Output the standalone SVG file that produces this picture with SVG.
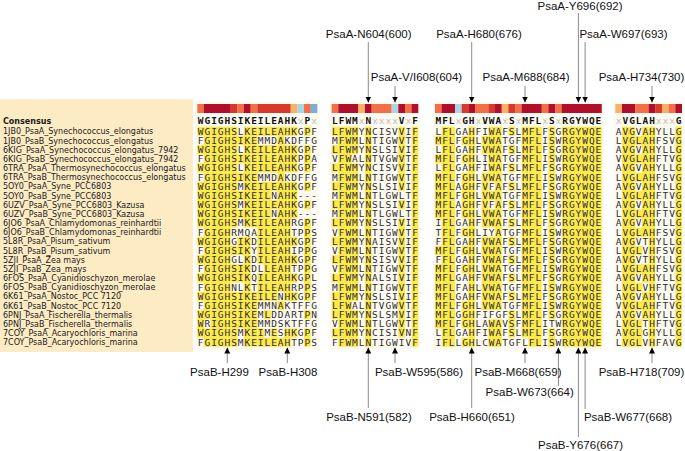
<svg xmlns="http://www.w3.org/2000/svg" width="685" height="451" viewBox="0 0 685 451">
<style>
.lbl{font-family:"DejaVu Sans",Verdana,sans-serif;font-size:8px;fill:#1a1a1a}
.cons{font-family:"DejaVu Sans Mono",monospace;font-size:9.5px;font-weight:bold;fill:#111;letter-spacing:0.95px}
.seq{font-family:"DejaVu Sans Mono",monospace;font-size:9.5px;fill:#2e2e2e;letter-spacing:0.95px}
.gx{fill:#c0c0c0;font-weight:normal}
.ann{font-family:"Liberation Sans",Arial,sans-serif;font-size:11.5px;fill:#111;text-anchor:middle}
.hl rect{fill:#fde94c}
.c5{fill:#b10e2b}.c4{fill:#d9392b}.c3{fill:#f36f47}.c2{fill:#fbb067}.c1{fill:#a9d5e8}.c0{fill:#7aaed6}
.blk{fill:#fdfaf1}
.ar{stroke:#8a8a8a;stroke-width:1;fill:none;marker-end:url(#ah)}
</style>
<defs>
<marker id="ah" viewBox="0 0 6 6" refX="6" refY="3" markerWidth="6" markerHeight="6" markerUnits="userSpaceOnUse" orient="auto"><path d="M0,0 L6,3 L0,6 z" fill="#000"/></marker>
</defs>
<rect width="685" height="451" fill="#fff"/>
<g id="label-panel">
<rect x="0" y="99" width="193" height="253" fill="#fdebc4"/>
<text class="lbl" x="3" y="123.5" font-weight="bold">Consensus</text>
<text class="lbl" x="3" y="134.4"><tspan x="3">1JB0_PsaA_Synechococcus_elongatus</tspan><tspan x="3" dy="9.17">1JB0_PsaB_Synechococcus_elongatus</tspan><tspan x="3" dy="9.17">6KIG_PsaA_Synechococcus_elongatus_7942</tspan><tspan x="3" dy="9.17">6KIG_PsaB_Synechococcus_elongatus_7942</tspan><tspan x="3" dy="9.17">6TRA_PsaA_Thermosynechococcus_elongatus</tspan><tspan x="3" dy="9.17">6TRA_PsaB_Thermosynechococcus_elongatus</tspan><tspan x="3" dy="9.17">5OY0_PsaA_Syne_PCC6803</tspan><tspan x="3" dy="9.17">5OY0_PsaB_Syne_PCC6803</tspan><tspan x="3" dy="9.17">6UZV_PsaA_Syne_PCC6803_Kazusa</tspan><tspan x="3" dy="9.17">6UZV_PsaB_Syne_PCC6803_Kazusa</tspan><tspan x="3" dy="9.17">6JO6_PsaA_Chlamydomonas_reinhardtii</tspan><tspan x="3" dy="9.17">6JO6_PsaB_Chlamydomonas_reinhardtii</tspan><tspan x="3" dy="9.17">5L8R_PsaA_Pisum_sativum</tspan><tspan x="3" dy="9.17">5L8R_PsaB_Pisum_sativum</tspan><tspan x="3" dy="9.17">5ZJI_PsaA_Zea mays</tspan><tspan x="3" dy="9.17">5ZJI_PsaB_Zea_mays</tspan><tspan x="3" dy="9.17">6FOS_PsaA_Cyanidioschyzon_merolae</tspan><tspan x="3" dy="9.17">6FOS_PsaB_Cyanidioschyzon_merolae</tspan><tspan x="3" dy="9.17">6K61_PsaA_Nostoc_PCC 7120</tspan><tspan x="3" dy="9.17">6K61_PsaB_Nostoc_PCC 7120</tspan><tspan x="3" dy="9.17">6PNJ_PsaA_Fischerella_thermalis</tspan><tspan x="3" dy="9.17">6PNJ_PsaB_Fischerella_thermalis</tspan><tspan x="3" dy="9.17">7COY_PsaA_Acaryochloris_marina</tspan><tspan x="3" dy="9.17">7COY_PsaB_Acaryochloris_marina</tspan></text>
</g>

<g id="block1">
<rect class="blk" x="195.3" y="101" width="124" height="248"/>
<g transform="translate(197.3,104) scale(6.67,9)">
<rect class="c3" x="0" y="0" width="1.02" height="1"/><rect class="c5" x="1" y="0" width="4.02" height="1"/><rect class="c4" x="5" y="0" width="1.02" height="1"/><rect class="c3" x="6" y="0" width="1.02" height="1"/><rect class="c5" x="7" y="0" width="1.02" height="1"/><rect class="c3" x="8" y="0" width="1.02" height="1"/><rect class="c4" x="9" y="0" width="5.02" height="1"/><rect class="c2" x="14" y="0" width="1.02" height="1"/><rect class="c1" x="15" y="0" width="1.02" height="1"/><rect class="c3" x="16" y="0" width="1.02" height="1"/><rect class="c0" x="17" y="0" width="1" height="1"/>
</g>
<text class="cons" x="197.8" y="123.8">WGIGHSIKEILEAHK<tspan class="gx">x</tspan>P<tspan class="gx">x</tspan></text>
<g class="hl" transform="translate(197.3,126.7) scale(6.67,9.17)">
<rect x="0" y="0" width="1.02" height="1"/><rect x="0" y="2" width="1.02" height="1"/><rect x="0" y="4" width="1.02" height="1"/><rect x="0" y="6" width="1.02" height="5"/><rect x="0" y="12" width="1.02" height="1"/><rect x="0" y="14" width="1.02" height="1"/><rect x="0" y="16" width="1.02" height="1"/><rect x="0" y="18" width="1.02" height="1"/><rect x="0" y="20" width="1.02" height="3"/>
<rect x="1" y="0" width="1.02" height="21"/><rect x="1" y="22" width="1.02" height="2"/>
<rect x="2" y="0" width="3.02" height="24"/>
<rect x="5" y="0" width="1.02" height="11"/><rect x="5" y="13" width="1.02" height="1"/><rect x="5" y="15" width="1.02" height="2"/><rect x="5" y="18" width="1.02" height="6"/>
<rect x="6" y="1" width="1.02" height="1"/><rect x="6" y="3" width="1.02" height="1"/><rect x="6" y="5" width="1.02" height="1"/><rect x="6" y="7" width="1.02" height="1"/><rect x="6" y="9" width="1.02" height="1"/><rect x="6" y="12" width="1.02" height="2"/><rect x="6" y="15" width="1.02" height="2"/><rect x="6" y="18" width="1.02" height="4"/>
<rect x="7" y="0" width="1.02" height="11"/><rect x="7" y="12" width="1.02" height="12"/>
<rect x="8" y="0" width="1.02" height="11"/><rect x="8" y="18" width="1.02" height="6"/>
<rect x="9" y="0" width="1.02" height="1"/><rect x="9" y="2" width="1.02" height="3"/><rect x="9" y="6" width="1.02" height="9"/><rect x="9" y="16" width="1.02" height="3"/><rect x="9" y="22" width="1.02" height="2"/>
<rect x="10" y="0" width="1.02" height="1"/><rect x="10" y="2" width="1.02" height="3"/><rect x="10" y="6" width="1.02" height="13"/><rect x="10" y="20" width="1.02" height="1"/><rect x="10" y="23" width="1.02" height="1"/>
<rect x="11" y="0" width="1.02" height="1"/><rect x="11" y="2" width="1.02" height="3"/><rect x="11" y="6" width="1.02" height="1"/><rect x="11" y="8" width="1.02" height="1"/><rect x="11" y="10" width="1.02" height="9"/><rect x="11" y="22" width="1.02" height="2"/>
<rect x="12" y="0" width="1.02" height="18"/><rect x="12" y="19" width="1.02" height="1"/><rect x="12" y="23" width="1.02" height="1"/>
<rect x="13" y="0" width="1.02" height="1"/><rect x="13" y="2" width="1.02" height="3"/><rect x="13" y="6" width="1.02" height="13"/><rect x="13" y="22" width="1.02" height="2"/>
<rect x="14" y="0" width="1.02" height="1"/><rect x="14" y="2" width="1.02" height="3"/><rect x="14" y="6" width="1.02" height="4"/><rect x="14" y="12" width="1.02" height="1"/><rect x="14" y="14" width="1.02" height="1"/><rect x="14" y="16" width="1.02" height="1"/><rect x="14" y="18" width="1.02" height="1"/><rect x="14" y="22" width="1.02" height="1"/>
<rect x="16" y="0" width="1" height="1"/><rect x="16" y="2" width="1" height="3"/><rect x="16" y="6" width="1" height="1"/><rect x="16" y="8" width="1" height="1"/><rect x="16" y="10" width="1" height="9"/><rect x="16" y="20" width="1" height="1"/><rect x="16" y="22" width="1" height="2"/>
</g>
<text class="seq" x="197.8" y="134.7"><tspan x="197.8">WGIGHSLKEILEAHKGPF</tspan><tspan x="197.8" dy="9.17">FGIGHSIKEMMDAKDFFG</tspan><tspan x="197.8" dy="9.17">WGIGHSLKEILEAHKGPF</tspan><tspan x="197.8" dy="9.17">FGIGHSIKEILEAHKPPA</tspan><tspan x="197.8" dy="9.17">WGIGHSLKEILEAHKGPF</tspan><tspan x="197.8" dy="9.17">FGIGHSIKEMMDAKDFFG</tspan><tspan x="197.8" dy="9.17">WGIGHSMKEILEAHKGPF</tspan><tspan x="197.8" dy="9.17">WGIGHSIKEILNAHK---</tspan><tspan x="197.8" dy="9.17">WGIGHSMKEILEAHKGPF</tspan><tspan x="197.8" dy="9.17">WGIGHSIKEILNAHK---</tspan><tspan x="197.8" dy="9.17">WGIGHSMKEILEAHRGPF</tspan><tspan x="197.8" dy="9.17">FGIGHRMQAILEAHTPPS</tspan><tspan x="197.8" dy="9.17">WGIGHGIKDILEAHKGPF</tspan><tspan x="197.8" dy="9.17">FGIGHSIKYILEAHIPPG</tspan><tspan x="197.8" dy="9.17">WGIGHGLKDILEAHKGPF</tspan><tspan x="197.8" dy="9.17">FGIGHSIKDLLEAHTPPG</tspan><tspan x="197.8" dy="9.17">WGIGHSIKQILEAHKGPL</tspan><tspan x="197.8" dy="9.17">FGIGHNLKTILEAHRPPS</tspan><tspan x="197.8" dy="9.17">WGIGHSIKEILENHKGPF</tspan><tspan x="197.8" dy="9.17">FGIGHSIKEMMNAKTFFG</tspan><tspan x="197.8" dy="9.17">WGIGHSIKEMLDDARTPN</tspan><tspan x="197.8" dy="9.17">WRIGHSIKEMMDSKTFFG</tspan><tspan x="197.8" dy="9.17">WGIGHSMKEIMESHKGPF</tspan><tspan x="197.8" dy="9.17">FGIGHSMKEILEAHTPPS</tspan></text>
</g>

<g id="block2">
<rect class="blk" x="329.6" y="101" width="91" height="248"/>
<g transform="translate(331.6,104) scale(6.67,9)">
<rect class="c3" x="0" y="0" width="1.02" height="1"/><rect class="c5" x="1" y="0" width="3.02" height="1"/><rect class="c2" x="4" y="0" width="1.02" height="1"/><rect class="c5" x="5" y="0" width="1.02" height="1"/><rect class="c3" x="6" y="0" width="3.02" height="1"/><rect class="c1" x="9" y="0" width="1.02" height="1"/><rect class="c5" x="10" y="0" width="1.02" height="1"/><rect class="c3" x="11" y="0" width="1.02" height="1"/><rect class="c5" x="12" y="0" width="1" height="1"/>
</g>
<text class="cons" x="332.1" y="123.8">LFWM<tspan class="gx">x</tspan>N<tspan class="gx">xxxx</tspan>V<tspan class="gx">x</tspan>F</text>
<g class="hl" transform="translate(331.6,126.7) scale(6.67,9.17)">
<rect x="0" y="0" width="1.02" height="1"/><rect x="0" y="2" width="1.02" height="1"/><rect x="0" y="4" width="1.02" height="1"/><rect x="0" y="6" width="1.02" height="1"/><rect x="0" y="8" width="1.02" height="1"/><rect x="0" y="10" width="1.02" height="1"/><rect x="0" y="12" width="1.02" height="1"/><rect x="0" y="14" width="1.02" height="1"/><rect x="0" y="16" width="1.02" height="1"/><rect x="0" y="18" width="1.02" height="3"/><rect x="0" y="22" width="1.02" height="1"/>
<rect x="1" y="0" width="2.02" height="24"/>
<rect x="3" y="0" width="1" height="3"/><rect x="3" y="4" width="1" height="15"/><rect x="3" y="20" width="1" height="4"/>
<rect x="5" y="0" width="1" height="24"/>
<rect x="10" y="0" width="1" height="7"/><rect x="10" y="8" width="1" height="1"/><rect x="10" y="10" width="1" height="13"/>
<rect x="12" y="0" width="1" height="24"/>
</g>
<text class="seq" x="332.1" y="134.7"><tspan x="332.1">LFWMYNCISVVIF</tspan><tspan x="332.1" dy="9.17">MFWMLNTIGWVTF</tspan><tspan x="332.1" dy="9.17">LFWMYNSLSIVIF</tspan><tspan x="332.1" dy="9.17">VFWALNTVGWVTF</tspan><tspan x="332.1" dy="9.17">LFWMYNCISVVIF</tspan><tspan x="332.1" dy="9.17">MFWMLNTIGWVTF</tspan><tspan x="332.1" dy="9.17">LFWMYNSLSIVIF</tspan><tspan x="332.1" dy="9.17">MFWMLNTLGWLTF</tspan><tspan x="332.1" dy="9.17">LFWMYNSLSIVIF</tspan><tspan x="332.1" dy="9.17">MFWMLNTLGWLTF</tspan><tspan x="332.1" dy="9.17">LFWMYNSLSIVIF</tspan><tspan x="332.1" dy="9.17">VFWMLNTIGWVTF</tspan><tspan x="332.1" dy="9.17">LFWMYNAISVVIF</tspan><tspan x="332.1" dy="9.17">VFWMLNTIGWVTF</tspan><tspan x="332.1" dy="9.17">LFWMYNSISVVIF</tspan><tspan x="332.1" dy="9.17">VFWMLNTIGWVTF</tspan><tspan x="332.1" dy="9.17">LFWMYNALSIVIF</tspan><tspan x="332.1" dy="9.17">MFWMLNTIGWVTF</tspan><tspan x="332.1" dy="9.17">LFWMYNSLSIVIF</tspan><tspan x="332.1" dy="9.17">LFWALNTVGWVTF</tspan><tspan x="332.1" dy="9.17">LFWMYNSLSMVIF</tspan><tspan x="332.1" dy="9.17">VFWMLNTLGWVTF</tspan><tspan x="332.1" dy="9.17">LFWMYNCISIVNF</tspan><tspan x="332.1" dy="9.17">FFWMLNTIGWIVF</tspan></text>
</g>

<g id="block3">
<rect class="blk" x="433" y="101" width="171" height="248"/>
<g transform="translate(435,104) scale(6.67,9)">
<rect class="c3" x="0" y="0" width="1.02" height="1"/><rect class="c5" x="1" y="0" width="2.02" height="1"/><rect class="c1" x="3" y="0" width="1.02" height="1"/><rect class="c4" x="4" y="0" width="1.02" height="1"/><rect class="c5" x="5" y="0" width="1.02" height="1"/><rect class="c3" x="6" y="0" width="2.02" height="1"/><rect class="c4" x="8" y="0" width="1.02" height="1"/><rect class="c5" x="9" y="0" width="1.02" height="1"/><rect class="c2" x="10" y="0" width="1.02" height="1"/><rect class="c4" x="11" y="0" width="1.02" height="1"/><rect class="c3" x="12" y="0" width="1.02" height="1"/><rect class="c5" x="13" y="0" width="3.02" height="1"/><rect class="c3" x="16" y="0" width="1.02" height="1"/><rect class="c5" x="17" y="0" width="1.02" height="1"/><rect class="c3" x="18" y="0" width="1.02" height="1"/><rect class="c5" x="19" y="0" width="6" height="1"/>
</g>
<text class="cons" x="435.5" y="123.8">MFL<tspan class="gx">x</tspan>GH<tspan class="gx">x</tspan>VWA<tspan class="gx">x</tspan>S<tspan class="gx">x</tspan>MFL<tspan class="gx">x</tspan>S<tspan class="gx">x</tspan>RGYWQE</text>
<g class="hl" transform="translate(435,126.7) scale(6.67,9.17)">
<rect x="0" y="1" width="1.02" height="1"/><rect x="0" y="3" width="1.02" height="1"/><rect x="0" y="5" width="1.02" height="5"/><rect x="0" y="13" width="1.02" height="1"/><rect x="0" y="15" width="1.02" height="7"/>
<rect x="1" y="0" width="2" height="24"/>
<rect x="4" y="1" width="1.02" height="1"/><rect x="4" y="3" width="1.02" height="1"/><rect x="4" y="5" width="1.02" height="5"/><rect x="4" y="11" width="1.02" height="1"/><rect x="4" y="13" width="1.02" height="1"/><rect x="4" y="15" width="1.02" height="1"/><rect x="4" y="19" width="1.02" height="3"/><rect x="4" y="23" width="1.02" height="1"/>
<rect x="5" y="0" width="1" height="24"/>
<rect x="7" y="1" width="1.02" height="2"/><rect x="7" y="5" width="1.02" height="6"/><rect x="7" y="12" width="1.02" height="8"/>
<rect x="8" y="0" width="1.02" height="6"/><rect x="8" y="7" width="1.02" height="1"/><rect x="8" y="9" width="1.02" height="2"/><rect x="8" y="12" width="1.02" height="8"/><rect x="8" y="21" width="1.02" height="3"/>
<rect x="9" y="0" width="1" height="20"/><rect x="9" y="21" width="1" height="3"/>
<rect x="11" y="0" width="1" height="1"/><rect x="11" y="2" width="1" height="1"/><rect x="11" y="4" width="1" height="1"/><rect x="11" y="6" width="1" height="1"/><rect x="11" y="8" width="1" height="1"/><rect x="11" y="10" width="1" height="1"/><rect x="11" y="12" width="1" height="1"/><rect x="11" y="14" width="1" height="1"/><rect x="11" y="16" width="1" height="1"/><rect x="11" y="18" width="1" height="1"/><rect x="11" y="20" width="1" height="3"/>
<rect x="13" y="0" width="1.02" height="23"/>
<rect x="14" y="0" width="2" height="24"/>
<rect x="17" y="0" width="1" height="21"/><rect x="17" y="22" width="1" height="2"/>
<rect x="19" y="0" width="6" height="24"/>
</g>
<text class="seq" x="435.5" y="134.7"><tspan x="435.5">LFLGAHFIWAFSLMFLFSGRGYWQE</tspan><tspan x="435.5" dy="9.17">MFLFGHLVWATGFMFLISWRGYWQE</tspan><tspan x="435.5" dy="9.17">LFLGAHFVWAFSLMFLFSGRGYWQE</tspan><tspan x="435.5" dy="9.17">MFLFGHLIWATGFMFLISWRGYWQE</tspan><tspan x="435.5" dy="9.17">LFLGAHFIWAFSLMFLFSGRGYWQE</tspan><tspan x="435.5" dy="9.17">MFLFGHLVWATGFMFLISWRGYWQE</tspan><tspan x="435.5" dy="9.17">MFLAGHFVFAFSLMFLFSGRGYWQE</tspan><tspan x="435.5" dy="9.17">MFLFGHLVWATGFMFLISWRGYWQE</tspan><tspan x="435.5" dy="9.17">MFLAGHFVFAFSLMFLFSGRGYWQE</tspan><tspan x="435.5" dy="9.17">MFLFGHLVWATGFMFLISWRGYWQE</tspan><tspan x="435.5" dy="9.17">IFLGAHFVWAFSLMFLFSGRGYWQE</tspan><tspan x="435.5" dy="9.17">TFLFGHLIYATGFMFLISWRGYWQE</tspan><tspan x="435.5" dy="9.17">FFLGAHFVWAFSLMFLFSGRGYWQE</tspan><tspan x="435.5" dy="9.17">MFLFGHLVWATGFMFLISWRGYWQE</tspan><tspan x="435.5" dy="9.17">FFLGAHFVWAFSLMFLFSGRGYWQE</tspan><tspan x="435.5" dy="9.17">MFLFGHLVWATGFMFLISWRGYWQE</tspan><tspan x="435.5" dy="9.17">MFLGAHFVWAFSLMFLFSGRGYWQE</tspan><tspan x="435.5" dy="9.17">MFLFAHLVWATGFMFLISWRGYWQE</tspan><tspan x="435.5" dy="9.17">MFLGAHFVWAFSLMFLFSGRGYWQE</tspan><tspan x="435.5" dy="9.17">MFLFGHLVWATGFMFLISWRGYWQE</tspan><tspan x="435.5" dy="9.17">MFLGGHFIFGFSLMFLFSGRGYWQE</tspan><tspan x="435.5" dy="9.17">MFLFGHLAWAVSFMFLITWRGYWQE</tspan><tspan x="435.5" dy="9.17">LFLGAHFIWAFSLMFLFSGRGYWQE</tspan><tspan x="435.5" dy="9.17">IFLLGHLCWATGFLFLISWRGYWQE</tspan></text>
</g>

<g id="block4">
<rect class="blk" x="613.3" y="101" width="71" height="248"/>
<g transform="translate(615.3,104) scale(6.67,9)">
<rect class="c2" x="0" y="0" width="1.02" height="1"/><rect class="c5" x="1" y="0" width="2.02" height="1"/><rect class="c3" x="3" y="0" width="2.02" height="1"/><rect class="c5" x="5" y="0" width="1.02" height="1"/><rect class="c4" x="6" y="0" width="1.02" height="1"/><rect class="c2" x="7" y="0" width="1.02" height="1"/><rect class="c3" x="8" y="0" width="1.02" height="1"/><rect class="c5" x="9" y="0" width="1" height="1"/>
</g>
<text class="cons" x="615.8" y="123.8"><tspan class="gx">x</tspan>VGLAH<tspan class="gx">xxx</tspan>G</text>
<g class="hl" transform="translate(615.3,126.7) scale(6.67,9.17)">
<rect x="1" y="0" width="2" height="24"/>
<rect x="3" y="1" width="1.02" height="1"/><rect x="3" y="3" width="1.02" height="1"/><rect x="3" y="5" width="1.02" height="1"/><rect x="3" y="7" width="1.02" height="1"/><rect x="3" y="9" width="1.02" height="1"/><rect x="3" y="11" width="1.02" height="1"/><rect x="3" y="13" width="1.02" height="1"/><rect x="3" y="15" width="1.02" height="1"/><rect x="3" y="17" width="1.02" height="1"/><rect x="3" y="19" width="1.02" height="1"/><rect x="3" y="21" width="1.02" height="3"/>
<rect x="4" y="0" width="1.02" height="12"/><rect x="4" y="15" width="1.02" height="2"/><rect x="4" y="18" width="1.02" height="3"/>
<rect x="5" y="0" width="1" height="24"/>
<rect x="9" y="0" width="1" height="24"/>
</g>
<text class="seq" x="615.8" y="134.7"><tspan x="615.8">AVGVAHYLLG</tspan><tspan x="615.8" dy="9.17">LVGLAHFSVG</tspan><tspan x="615.8" dy="9.17">AVGVAHYLLG</tspan><tspan x="615.8" dy="9.17">VVGLAHFTVG</tspan><tspan x="615.8" dy="9.17">AVGVAHYLLG</tspan><tspan x="615.8" dy="9.17">LVGLAHFSVG</tspan><tspan x="615.8" dy="9.17">AVGVAHYLLG</tspan><tspan x="615.8" dy="9.17">LVGLAHFTVG</tspan><tspan x="615.8" dy="9.17">AVGVAHYLLG</tspan><tspan x="615.8" dy="9.17">LVGLAHFTVG</tspan><tspan x="615.8" dy="9.17">AVGVAHYLLG</tspan><tspan x="615.8" dy="9.17">LVGLAHFSVG</tspan><tspan x="615.8" dy="9.17">AVGVTHYLLG</tspan><tspan x="615.8" dy="9.17">LVGLVHFSVG</tspan><tspan x="615.8" dy="9.17">AVGVTHYLLG</tspan><tspan x="615.8" dy="9.17">LVGLAHFSVG</tspan><tspan x="615.8" dy="9.17">AVGVAHYLLG</tspan><tspan x="615.8" dy="9.17">LVGLVHFTVG</tspan><tspan x="615.8" dy="9.17">AVGVAHYLLG</tspan><tspan x="615.8" dy="9.17">VVGLAHFTVG</tspan><tspan x="615.8" dy="9.17">AVGVAHYLLG</tspan><tspan x="615.8" dy="9.17">LVGLTHFTVG</tspan><tspan x="615.8" dy="9.17">AVGLGHYLLG</tspan><tspan x="615.8" dy="9.17">LVGLVHFAVG</tspan></text>
</g>

<g id="connectors">
<line class="ar" x1="578.4" y1="13" x2="578.4" y2="102.5"/>
<line class="ar" x1="368.3" y1="42" x2="368.3" y2="102.5"/>
<line class="ar" x1="471.7" y1="42" x2="471.7" y2="102.5"/>
<line class="ar" x1="585.1" y1="42" x2="585.1" y2="102.5"/>
<line class="ar" x1="395" y1="86" x2="395" y2="102.5"/>
<line class="ar" x1="525" y1="86" x2="525" y2="102.5"/>
<line class="ar" x1="652" y1="86" x2="652" y2="102.5"/>
<line class="ar" x1="227.3" y1="363" x2="227.3" y2="347.5"/>
<line class="ar" x1="287.3" y1="363" x2="287.3" y2="347.5"/>
<line class="ar" x1="395" y1="363" x2="395" y2="347.5"/>
<line class="ar" x1="525" y1="363" x2="525" y2="347.5"/>
<line class="ar" x1="652" y1="363" x2="652" y2="347.5"/>
<line class="ar" x1="558.4" y1="386" x2="558.4" y2="347.5"/>
<line class="ar" x1="368.3" y1="408" x2="368.3" y2="347.5"/>
<line class="ar" x1="471.7" y1="408" x2="471.7" y2="347.5"/>
<line class="ar" x1="585.1" y1="409" x2="585.1" y2="347.5"/>
<line class="ar" x1="578.4" y1="437" x2="578.4" y2="347.5"/>
</g>

<g id="labels-top">
<text id="t-y696" class="ann" x="580" y="9.5">PsaA-Y696(692)</text>
<text id="t-n604" class="ann" x="368.7" y="37.5">PsaA-N604(600)</text>
<text id="t-h680" class="ann" x="479" y="37.5">PsaA-H680(676)</text>
<text id="t-w697" class="ann" x="623.5" y="37.5">PsaA-W697(693)</text>
<text id="t-v608" class="ann" x="416.5" y="80.7">PsaA-V/I608(604)</text>
<text id="t-m688" class="ann" x="526" y="80.7">PsaA-M688(684)</text>
<text id="t-h734" class="ann" x="641.5" y="80.7">PsaA-H734(730)</text>
</g>
<g id="labels-bottom">
<text id="b-h299" class="ann" x="219.5" y="375.7">PsaB-H299</text>
<text id="b-h308" class="ann" x="288" y="375.7">PsaB-H308</text>
<text id="b-w595" class="ann" x="419" y="375.7">PsaB-W595(586)</text>
<text id="b-m668" class="ann" x="518" y="375.7">PsaB-M668(659)</text>
<text id="b-h718" class="ann" x="641.5" y="375.7">PsaB-H718(709)</text>
<text id="b-w673" class="ann" x="529.7" y="395.7">PsaB-W673(664)</text>
<text id="b-n591" class="ann" x="369" y="420.7">PsaB-N591(582)</text>
<text id="b-h660" class="ann" x="472" y="420.7">PsaB-H660(651)</text>
<text id="b-w677" class="ann" x="628" y="420.7">PsaB-W677(668)</text>
<text id="b-y676" class="ann" x="580.5" y="448.5">PsaB-Y676(667)</text>
</g>
</svg>
